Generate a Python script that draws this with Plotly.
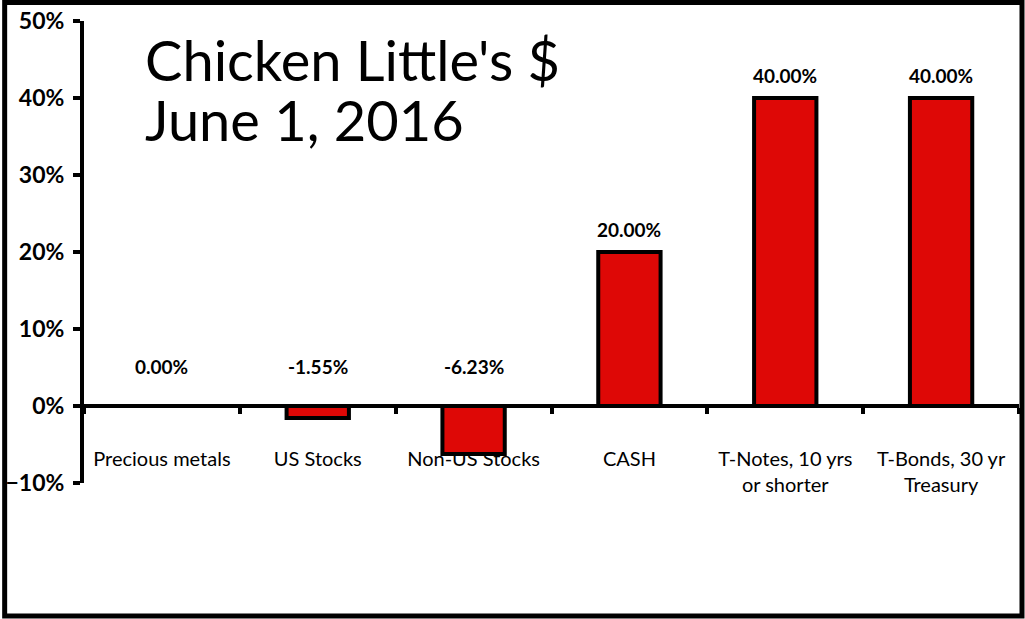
"""Chicken Little's $ 配置圖 (June 1, 2016)"""

import plotly.graph_objects as go

# === 資料 ===
CATEGORIES = [
    "Precious metals",
    "US Stocks",
    "Non-US Stocks",
    "CASH",
    "T-Notes, 10 yrs<br>or shorter",
    "T-Bonds, 30 yr<br>Treasury",
]
VALUES = [0.0, -0.0155, -0.0623, 0.20, 0.40, 0.40]
TITLE_LINES = ["Chicken Little's $", "June 1, 2016"]
Y_RANGE = [-0.10, 0.50]

# === 版面 ===
W, H = 1025, 619
L, R, T, B = 82, 6, 21, 136
PW, PH = W - L - R, H - T - B

COLORS = {
    'bar': '#DE0806',
    'line': '#000000',
    'text': '#000000',
}
FONT = 'Lato, Calibri, Arial, sans-serif'


def px_x(px):
    return (px - L) / PW


def px_y(py):
    return (H - B - py) / PH


fig = go.Figure()

fig.add_trace(go.Bar(
    x=CATEGORIES,
    y=VALUES,
    width=0.4,
    marker=dict(color=COLORS['bar'], line=dict(color=COLORS['line'], width=4)),
    hovertemplate='%{y:.2%}<extra></extra>',
))

# 數值標籤 (負值放在零線上方)
annotations = []
for cat, v in zip(CATEGORIES, VALUES):
    annotations.append(dict(
        x=cat, y=max(v, 0), xref='x', yref='y',
        text=f'{v * 100:.2f}%',
        showarrow=False, yanchor='middle',
        yshift=23 if v > 0 else 40,
        font=dict(family=FONT, size=19, color=COLORS['text'], weight='bold'),
    ))

# 標題 (兩行分開放, 行距較緊)
for i, line in enumerate(TITLE_LINES):
    annotations.append(dict(
        x=px_x(141), y=px_y(60 + 59 * i), xref='paper', yref='paper',
        text=line, showarrow=False, xanchor='left', yanchor='middle',
        font=dict(family=FONT, size=56, color=COLORS['text']),
    ))

zero_pos = (0 - Y_RANGE[0]) / (Y_RANGE[1] - Y_RANGE[0])

fig.update_layout(
    width=W, height=H,
    margin=dict(l=L, r=R, t=T, b=B),
    paper_bgcolor='white',
    plot_bgcolor='white',
    showlegend=False,
    xaxis=dict(
        anchor='free', position=zero_pos,
        showline=True, linecolor=COLORS['line'], linewidth=4,
        ticks='outside', tickson='boundaries', ticklen=6, tickwidth=4,
        tickcolor=COLORS['line'],
        ticklabelstandoff=34,
        tickfont=dict(family=FONT, size=20, color=COLORS['text']),
        showgrid=False, zeroline=False,
    ),
    yaxis=dict(
        range=Y_RANGE, dtick=0.1, tickformat='.0%',
        showline=True, linecolor=COLORS['line'], linewidth=4,
        ticks='outside', ticklen=7, tickwidth=4, tickcolor=COLORS['line'],
        ticklabelstandoff=4,
        tickfont=dict(family=FONT, size=23, color=COLORS['text'], weight='bold'),
        showgrid=False, zeroline=False,
    ),
    annotations=annotations,
    shapes=[dict(
        type='rect', xref='paper', yref='paper',
        x0=px_x(2.5), x1=px_x(W - 3), y0=px_y(H - 3), y1=px_y(2.5),
        line=dict(color=COLORS['line'], width=5), layer='above',
    )],
)

# 頁面去掉預設 body 邊距, 讓圖貼齊視窗
fig.write_html(
    "out.html",
    config={'displayModeBar': False},
    post_script="document.body.style.margin='0';",
)
